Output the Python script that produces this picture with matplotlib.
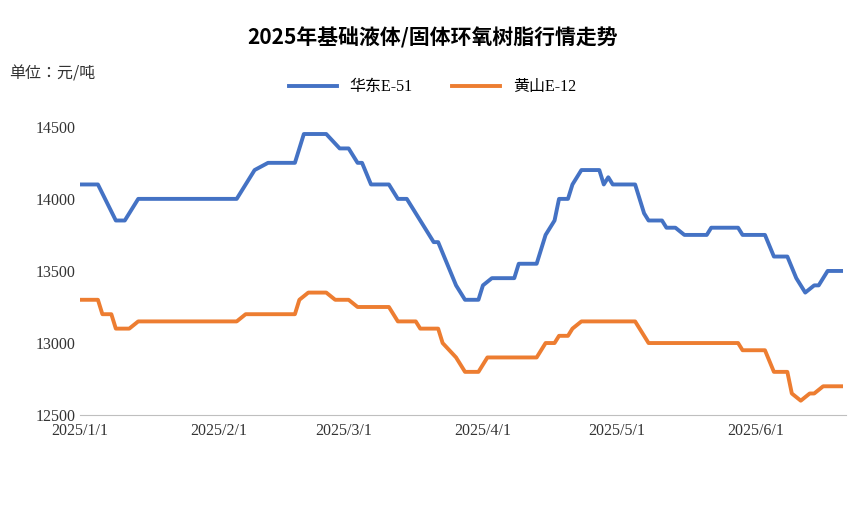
import matplotlib
matplotlib.use("Agg")
import matplotlib.pyplot as plt
import pandas as pd

east_dates = ["2025-01-01","2025-01-05","2025-01-09","2025-01-11","2025-01-14","2025-02-05","2025-02-08","2025-02-09",
 "2025-02-12","2025-02-18","2025-02-20","2025-02-25","2025-02-28","2025-03-02","2025-03-04","2025-03-05","2025-03-07",
 "2025-03-11","2025-03-13","2025-03-15","2025-03-17","2025-03-19","2025-03-21","2025-03-22","2025-03-24","2025-03-26",
 "2025-03-28","2025-03-31","2025-04-01","2025-04-03","2025-04-08","2025-04-09","2025-04-13","2025-04-15","2025-04-17",
 "2025-04-18","2025-04-20","2025-04-21","2025-04-23","2025-04-27","2025-04-28","2025-04-29","2025-04-30","2025-05-05",
 "2025-05-07","2025-05-08","2025-05-11","2025-05-12","2025-05-14","2025-05-16","2025-05-21","2025-05-22","2025-05-28",
 "2025-05-29","2025-06-03","2025-06-05","2025-06-08","2025-06-10","2025-06-12","2025-06-14","2025-06-15","2025-06-17","2025-06-20"]
east_vals = [14100,14100,13850,13850,14000,14000,14150,14200,
 14250,14250,14450,14450,14350,14350,14250,14250,14100,
 14100,14000,14000,13900,13800,13700,13700,13550,13400,
 13300,13300,13400,13450,13450,13550,13550,13750,13850,
 14000,14000,14100,14200,14200,14100,14150,14100,14100,
 13900,13850,13850,13800,13800,13750,13750,13800,13800,
 13750,13750,13600,13600,13450,13350,13400,13400,13500,13500]

hs_dates = ["2025-01-01","2025-01-05","2025-01-06","2025-01-08","2025-01-09","2025-01-12","2025-01-14","2025-02-05",
 "2025-02-07","2025-02-18","2025-02-19","2025-02-21","2025-02-25","2025-02-27","2025-03-02","2025-03-04","2025-03-11",
 "2025-03-13","2025-03-17","2025-03-18","2025-03-22","2025-03-23","2025-03-26","2025-03-28","2025-03-31","2025-04-02",
 "2025-04-13","2025-04-15","2025-04-17","2025-04-18","2025-04-20","2025-04-21","2025-04-23","2025-05-05","2025-05-08",
 "2025-05-28","2025-05-29","2025-06-03","2025-06-05","2025-06-08","2025-06-09","2025-06-11","2025-06-13","2025-06-14",
 "2025-06-16","2025-06-20"]
hs_vals = [13300,13300,13200,13200,13100,13100,13150,13150,
 13200,13200,13300,13350,13350,13300,13300,13250,13250,
 13150,13150,13100,13100,13000,12900,12800,12800,12900,
 12900,13000,13000,13050,13050,13100,13150,13150,13000,
 13000,12950,12950,12800,12800,12650,12600,12650,12650,
 12700,12700]

yticks = [12500, 13000, 13500, 14000, 14500]
xtick_dates = ["2025-01-01","2025-02-01","2025-03-01","2025-04-01","2025-05-01","2025-06-01"]
xtick_labels = ["2025/1/1","2025/2/1","2025/3/1","2025/4/1","2025/5/1","2025/6/1"]

CJK = "Noto Sans CJK JP"
plt.rcParams["font.family"] = ["Liberation Serif", CJK]
fig = plt.figure(figsize=(8.65, 5.05), dpi=100)
ax = fig.add_axes([0.0925, 0.178, 0.885, 0.628])
ax.plot(pd.to_datetime(east_dates), east_vals, color="#4472C4", lw=2.8, label="华东E-51")
ax.plot(pd.to_datetime(hs_dates), hs_vals, color="#ED7D31", lw=2.8, label="黄山E-12")
ax.set_ylim(12500, 14700)
ax.set_yticks(yticks)
ax.set_xlim(pd.Timestamp("2025-01-01"), pd.Timestamp("2025-06-21"))
ax.set_xticks(pd.to_datetime(xtick_dates))
ax.set_xticklabels(xtick_labels)
ax.tick_params(labelsize=11.5, length=0, colors="#333333")
ax.tick_params(axis="x", pad=6)
for s in ["top", "right", "left"]:
    ax.spines[s].set_visible(False)
ax.spines["bottom"].set_color("#bfbfbf")
fig.text(0.5, 0.925, "2025年基础液体/固体环氧树脂行情走势", ha="center", va="center",
         fontsize=15, fontweight="bold", family=CJK)
fig.text(0.01, 0.853, "单位：元/吨", ha="left", va="center", fontsize=11.5, family=CJK, color="#333333")
fig.legend(loc="center", bbox_to_anchor=(0.5, 0.827), ncol=2, frameon=False, fontsize=11.5,
           handlelength=3, columnspacing=2.5)
fig.savefig("out.png", dpi=100)
